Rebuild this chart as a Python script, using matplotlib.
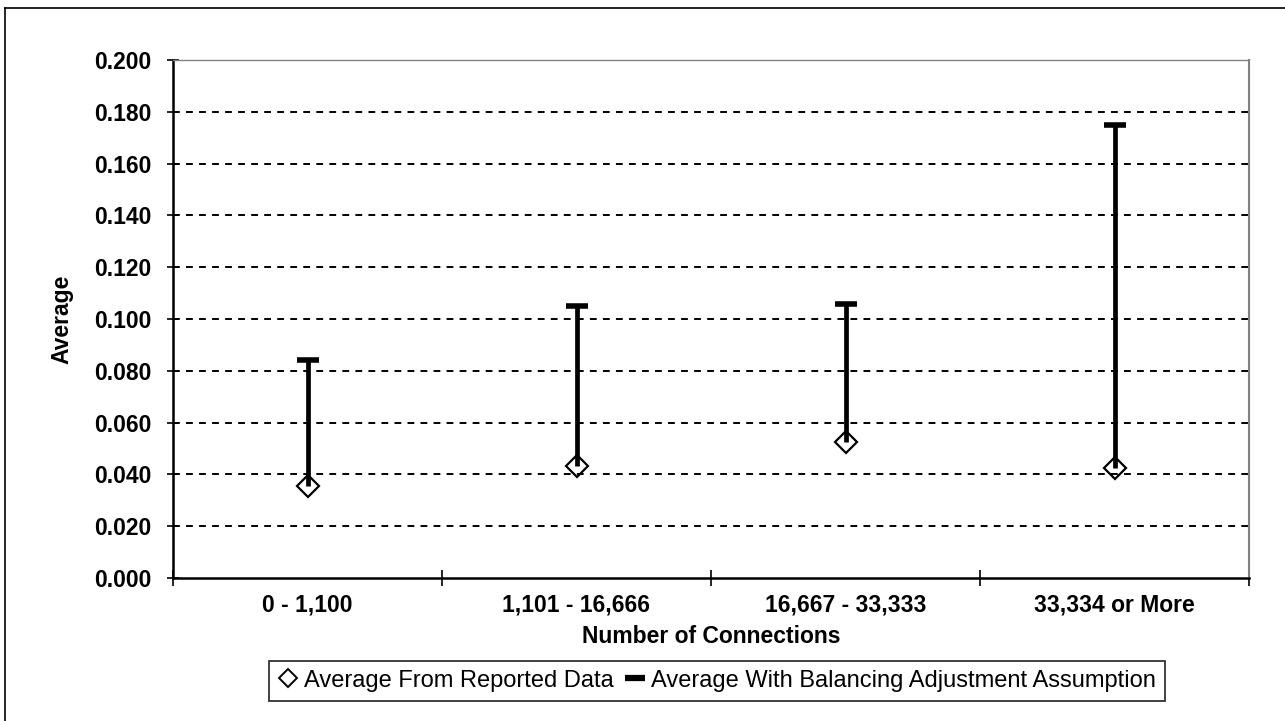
import numpy as np
import matplotlib
matplotlib.use('Agg')
from matplotlib import pyplot as plt
from matplotlib.lines import Line2D

plt.rcParams['font.family'] = ['Liberation Sans', 'DejaVu Sans']

# data
categories = ['0 - 1,100', '1,101 - 16,666', '16,667 - 33,333', '33,334 or More']
reported = [0.0356, 0.0431, 0.0524, 0.0426]
balanced = [0.0842, 0.1052, 0.1056, 0.1750]
yticks = [0.000, 0.020, 0.040, 0.060, 0.080, 0.100, 0.120, 0.140, 0.160, 0.180, 0.200]

fig = plt.figure(figsize=(12.85, 7.21), dpi=100)
ax = fig.add_axes([173 / 1285, 1 - 578 / 721, (1249 - 173) / 1285, (578 - 60) / 721])

x = np.arange(len(categories))

# gridlines
for v in yticks[1:]:
    ax.axhline(v, color='black', lw=1.4, linestyle=(0, (3.5, 3.2)), zorder=1)

# vertical lines from reported value up to the adjusted value
ax.vlines(x, reported, balanced, color='black', lw=3.4, zorder=2)
ax.plot(x, balanced, linestyle='none', marker='_', color='black', markersize=16.5, markeredgewidth=4, zorder=3)
ax.plot(x, reported, linestyle='none', marker='D', markersize=11, markerfacecolor='none',
        markeredgecolor='black', markeredgewidth=1.6, zorder=3)

ax.set_xlim(-0.5, 3.5)
ax.set_ylim(0, 0.2)
ax.set_yticks(yticks)
ax.set_yticklabels(['%.3f' % v for v in yticks], fontsize=16.5, fontweight='bold')
ax.set_xticks(np.arange(-0.5, 4.0, 1.0))
ax.set_xticklabels([])
ax.set_xticks(x, minor=True)
ax.set_xticklabels(categories, minor=True, fontsize=16.5, fontweight='bold')
ax.tick_params(axis='x', which='major', direction='inout', length=11, width=1.2)
ax.tick_params(axis='x', which='minor', length=0, pad=11)
ax.tick_params(axis='y', direction='inout', length=9, width=1.2, pad=11)

ax.spines['left'].set_linewidth(1.8)
ax.spines['bottom'].set_linewidth(1.8)
ax.spines['top'].set_color('#808080')
ax.spines['right'].set_color('#808080')
ax.spines['top'].set_linewidth(1)
ax.spines['right'].set_linewidth(1.5)

ax.set_xlabel('Number of Connections', fontsize=16.5, fontweight='bold')
ax.xaxis.set_label_coords(0.5, -0.091)
ax.set_ylabel('Average', fontsize=16.5, fontweight='bold')
ax.yaxis.set_label_coords(-0.093, 0.5)

handles = [Line2D([], [], linestyle='none', marker='D', markersize=9, markerfacecolor='none',
                  markeredgecolor='black', markeredgewidth=1.4),
           Line2D([], [], linestyle='none', marker='_', markersize=15, markeredgewidth=4.5, color='black')]
leg = ax.legend(handles, ['Average From Reported Data', 'Average With Balancing Adjustment Assumption'],
                loc='upper center', bbox_to_anchor=(0.5056, -0.1595), ncol=2, fontsize=17,
                frameon=True, fancybox=False, handlelength=0.85, handletextpad=0.25,
                columnspacing=0.5, borderpad=0.38, borderaxespad=0)
leg.get_frame().set_edgecolor('black')
leg.get_frame().set_linewidth(1.3)

# outer chart border
fig.add_artist(Line2D([5 / 1285, 5 / 1285], [0, 1 - 8 / 721], transform=fig.transFigure, color='black', lw=1.2))
fig.add_artist(Line2D([5 / 1285, 1], [1 - 8 / 721, 1 - 8 / 721], transform=fig.transFigure, color='black', lw=1.2))

plt.savefig('out.png', dpi=100)
